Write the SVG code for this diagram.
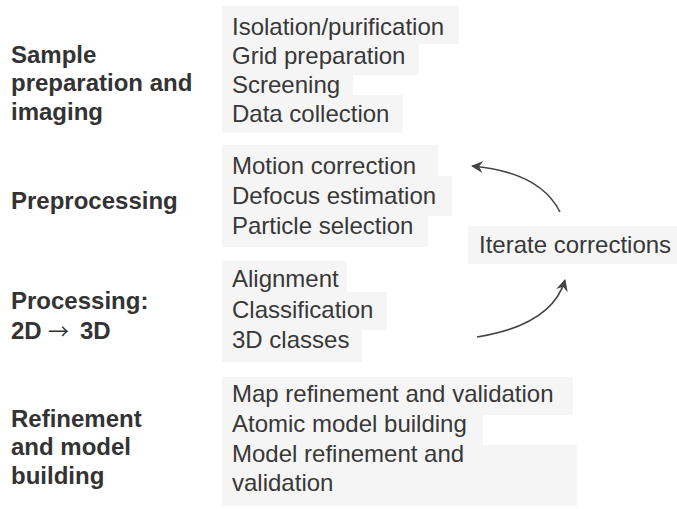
<svg xmlns="http://www.w3.org/2000/svg" width="677" height="509" viewBox="0 0 677 509">
<defs>
<style>
.bg{fill:#f5f5f5}
.it{font-family:"Liberation Sans",Arial,sans-serif;font-size:24px;fill:#383838}
.lb{font-family:"Liberation Sans",Arial,sans-serif;font-size:24px;font-weight:bold;fill:#333}
.ar{font-family:"Noto Sans CJK SC",sans-serif;font-weight:normal;font-size:21px}
.cn{fill:none;stroke:#444;stroke-width:1.6}
</style>
<marker id="ah" markerWidth="14" markerHeight="14" refX="11" refY="6" orient="auto" markerUnits="userSpaceOnUse">
<path d="M0,0 L12,6 L0,12 L4,6 z" fill="#444"/>
</marker>
</defs>
<rect width="677" height="509" fill="#fff"/>

<g id="highlights">
<rect class="bg" x="222" y="6" width="237" height="38"/>
<rect class="bg" x="222" y="44" width="197" height="31"/>
<rect class="bg" x="222" y="75" width="131" height="20"/>
<rect class="bg" x="222" y="95" width="181" height="38"/>
<rect class="bg" x="222" y="145" width="216" height="31"/>
<rect class="bg" x="222" y="176" width="230" height="40"/>
<rect class="bg" x="222" y="216" width="206" height="31"/>
<rect class="bg" x="222" y="261" width="125" height="31"/>
<rect class="bg" x="222" y="292" width="165" height="38"/>
<rect class="bg" x="222" y="330" width="140" height="32"/>
<rect class="bg" x="222" y="377" width="351" height="38"/>
<rect class="bg" x="222" y="415" width="261" height="30"/>
<rect class="bg" x="222" y="445" width="355" height="61"/>
<rect class="bg" x="468" y="226" width="209" height="38"/>
</g>

<g id="label-sample">
<text class="lb" x="11" y="62.5">Sample</text>
<text class="lb" x="11" y="91">preparation and</text>
<text class="lb" x="11" y="119.5">imaging</text>
</g>
<g id="label-preprocessing">
<text class="lb" x="11" y="209">Preprocessing</text>
</g>
<g id="label-processing">
<text class="lb" x="11" y="308.5">Processing:</text>
<text class="lb" x="11" y="338.5">2D <tspan class="ar" x="48">→</tspan><tspan x="80">3D</tspan></text>
</g>
<g id="label-refinement">
<text class="lb" x="11" y="426.5">Refinement</text>
<text class="lb" x="11" y="455">and model</text>
<text class="lb" x="11" y="484">building</text>
</g>

<g id="item-isolation"><text class="it" x="232" y="35">Isolation/purification</text></g>
<g id="item-grid"><text class="it" x="232" y="64.3">Grid preparation</text></g>
<g id="item-screening"><text class="it" x="232" y="93.3">Screening</text></g>
<g id="item-data"><text class="it" x="232" y="122.3">Data collection</text></g>

<g id="item-motion"><text class="it" x="232" y="174">Motion correction</text></g>
<g id="item-defocus"><text class="it" x="232" y="204">Defocus estimation</text></g>
<g id="item-particle"><text class="it" x="232" y="233.5">Particle selection</text></g>

<g id="item-alignment"><text class="it" x="232" y="287">Alignment</text></g>
<g id="item-classification"><text class="it" x="232" y="317.5">Classification</text></g>
<g id="item-3d"><text class="it" x="232" y="348">3D classes</text></g>

<g id="item-map"><text class="it" x="232" y="401.7">Map refinement and validation</text></g>
<g id="item-atomic"><text class="it" x="232" y="431.7">Atomic model building</text></g>
<g id="item-model"><text class="it" x="232" y="461.7">Model refinement and</text><text class="it" x="232" y="490.7">validation</text></g>

<g id="item-iterate"><text class="it" x="479" y="253">Iterate corrections</text></g>

<g id="connectors">
<path class="cn" d="M560,212 Q540,172 472,166" marker-end="url(#ah)"/>
<path class="cn" d="M477,337 Q552,325 565,280" marker-end="url(#ah)"/>
</g>
</svg>
